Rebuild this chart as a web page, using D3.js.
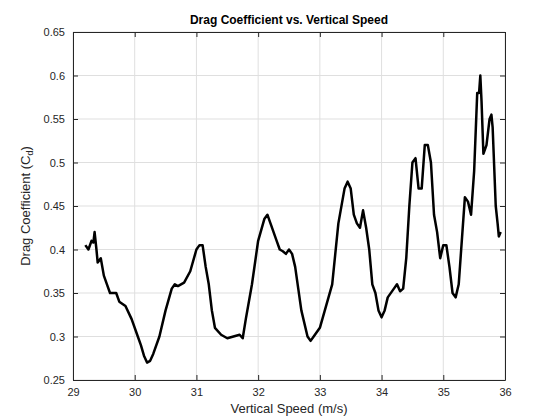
<!DOCTYPE html>
<html><head><meta charset="utf-8">
<script src="https://cdn.jsdelivr.net/npm/d3@7"></script>
<style>body{margin:0;background:#fff;font-family:"Liberation Sans",Arial,sans-serif;}</style>
</head><body><div id="chart"></div>
<script>
var speed = [29.2,29.25,29.3,29.33,29.35,29.38,29.4,29.45,29.5,29.55,29.6,29.7,29.75,29.85,29.95,30.05,30.1,30.15,30.2,30.25,30.3,30.4,30.5,30.6,30.65,30.7,30.8,30.9,31.0,31.05,31.1,31.15,31.2,31.25,31.3,31.4,31.5,31.6,31.7,31.75,31.8,31.9,32.0,32.1,32.15,32.2,32.3,32.35,32.4,32.45,32.5,32.55,32.6,32.65,32.7,32.8,32.85,32.9,33.0,33.1,33.2,33.3,33.4,33.45,33.5,33.55,33.6,33.65,33.7,33.75,33.8,33.85,33.9,33.95,34.0,34.05,34.1,34.2,34.25,34.3,34.35,34.4,34.45,34.5,34.55,34.6,34.65,34.7,34.75,34.8,34.85,34.9,34.95,35.0,35.05,35.1,35.15,35.2,35.25,35.3,35.35,35.4,35.45,35.5,35.55,35.58,35.6,35.62,35.65,35.7,35.75,35.78,35.8,35.85,35.88,35.9,35.93];
var drag = [.405,.40,.41,.408,.42,.40,.385,.39,.37,.36,.35,.35,.34,.335,.32,.30,.29,.278,.27,.272,.28,.30,.33,.355,.36,.358,.362,.375,.40,.405,.405,.38,.36,.33,.31,.302,.298,.30,.302,.298,.32,.36,.41,.435,.44,.43,.41,.40,.398,.395,.40,.395,.38,.355,.33,.30,.295,.30,.31,.335,.36,.43,.47,.478,.47,.44,.43,.425,.445,.425,.40,.36,.35,.33,.322,.33,.345,.355,.36,.352,.355,.39,.45,.50,.505,.47,.47,.52,.52,.50,.44,.42,.39,.405,.405,.38,.35,.345,.36,.41,.46,.455,.44,.49,.58,.58,.60,.57,.51,.52,.55,.555,.54,.45,.43,.415,.42];
var xTicks = [29,30,31,32,33,34,35,36];
var yTicks = [0.25,0.3,0.35,0.4,0.45,0.5,0.55,0.6,0.65];

var W = 560, H = 420, m = {l:73, r:55, t:32, b:40};
var svg = d3.select("#chart").append("svg").attr("width", W).attr("height", H);
var x = d3.scaleLinear().domain([29,36]).range([m.l, W - m.r]);
var y = d3.scaleLinear().domain([0.25,0.65]).range([H - m.b, m.t]);

// grid
svg.append("g").selectAll("line").data(xTicks).join("line")
    .attr("x1", d => x(d)).attr("x2", d => x(d)).attr("y1", m.t).attr("y2", H - m.b)
    .attr("stroke", "#dfdfdf");
svg.append("g").selectAll("line").data(yTicks).join("line")
    .attr("x1", m.l).attr("x2", W - m.r).attr("y1", d => y(d)).attr("y2", d => y(d))
    .attr("stroke", "#dfdfdf");

var fmt = d => d3.format(".2~f")(d);
function style(g) {
    g.selectAll(".domain").attr("stroke", "#262626");
    g.selectAll(".tick line").attr("stroke", "#262626");
    g.selectAll("text").attr("fill", "#262626").attr("font-size", 11)
        .attr("font-family", "Liberation Sans, Arial, sans-serif");
}
svg.append("g").attr("transform", `translate(0,${H - m.b})`)
    .call(d3.axisBottom(x).tickValues(xTicks).tickFormat(d3.format("d")).tickSize(-5).tickPadding(8).tickSizeOuter(0)).call(style);
svg.append("g").attr("transform", `translate(0,${m.t})`)
    .call(d3.axisTop(x).tickValues(xTicks).tickSize(-5).tickFormat("").tickSizeOuter(0)).call(style);
svg.append("g").attr("transform", `translate(${m.l},0)`)
    .call(d3.axisLeft(y).tickValues(yTicks).tickFormat(fmt).tickSize(-5).tickPadding(8).tickSizeOuter(0)).call(style);
svg.append("g").attr("transform", `translate(${W - m.r},0)`)
    .call(d3.axisRight(y).tickValues(yTicks).tickFormat("").tickSize(-5).tickSizeOuter(0)).call(style);

svg.append("path").datum(speed.map((s, i) => [s, drag[i]]))
    .attr("fill", "none").attr("stroke", "#000").attr("stroke-width", 2.5)
    .attr("stroke-linejoin", "round")
    .attr("d", d3.line().x(d => x(d[0])).y(d => y(d[1])));

svg.append("text").attr("x", (m.l + W - m.r) / 2).attr("y", 24).attr("text-anchor", "middle")
    .attr("font-weight", "bold").attr("font-size", 12).attr("fill", "#000")
    .text("Drag Coefficient vs. Vertical Speed");
svg.append("text").attr("x", (m.l + W - m.r) / 2).attr("y", 413).attr("text-anchor", "middle")
    .attr("font-size", 13).attr("fill", "#262626").text("Vertical Speed (m/s)");
var yl = svg.append("text").attr("transform", `translate(30,${(m.t + H - m.b) / 2}) rotate(-90)`)
    .attr("text-anchor", "middle").attr("font-size", 13).attr("fill", "#262626");
yl.append("tspan").text("Drag Coefficient (C");
yl.append("tspan").attr("font-size", 9).attr("dy", 3).text("d");
yl.append("tspan").attr("dy", -3).text(")");
</script></body></html>
